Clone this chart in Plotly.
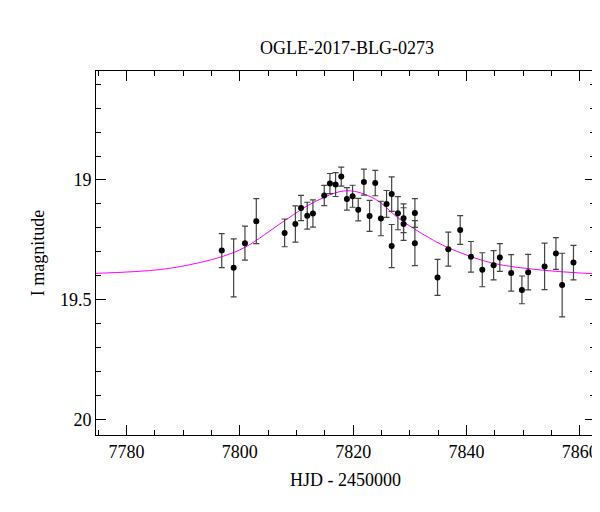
import plotly.graph_objects as go

# photometry (HJD - 2450000, I mag, error)
hjd = [7796.8, 7798.9, 7800.9, 7802.9, 7807.9, 7809.8, 7810.8, 7811.9, 7812.9,
       7814.9, 7815.9, 7816.9, 7817.9, 7818.9, 7819.9, 7820.9, 7821.9, 7822.9,
       7823.9, 7824.9, 7825.9, 7826.8, 7826.8, 7827.9, 7828.9, 7828.9, 7830.9,
       7830.9, 7834.9, 7836.8, 7838.9, 7840.8, 7842.8, 7844.8, 7845.9, 7847.9,
       7849.8, 7850.9, 7853.8, 7855.8, 7856.9, 7858.9]
mag = [19.295, 19.367, 19.264, 19.172, 19.221, 19.184, 19.117, 19.149, 19.140,
       19.065, 19.015, 19.019, 18.986, 19.079, 19.068, 19.124, 19.009, 19.150,
       19.013, 19.161, 19.100, 19.059, 19.276, 19.139, 19.160, 19.184, 19.138,
       19.264, 19.407, 19.289, 19.209, 19.321, 19.375, 19.356, 19.324, 19.388,
       19.459, 19.385, 19.361, 19.307, 19.439, 19.345]
err = [0.071, 0.121, 0.071, 0.094, 0.058, 0.076, 0.053, 0.056, 0.057,
       0.042, 0.042, 0.050, 0.040, 0.047, 0.046, 0.047, 0.054, 0.065,
       0.053, 0.072, 0.056, 0.072, 0.090, 0.069, 0.060, 0.068, 0.060,
       0.094, 0.075, 0.071, 0.060, 0.064, 0.071, 0.061, 0.058, 0.076,
       0.058, 0.074, 0.097, 0.066, 0.133, 0.072]

# model curve
model_t = [7774.6, 7786.0, 7792.7, 7797.1, 7801.0, 7807.9, 7813.3, 7818.9,
           7823.9, 7828.0, 7833.3, 7836.8, 7844.4, 7853.2, 7862.7]
model_m = [19.390, 19.374, 19.346, 19.318, 19.280, 19.170, 19.090, 19.045,
           19.080, 19.160, 19.240, 19.283, 19.346, 19.376, 19.392]

font = "Liberation Serif, DejaVu Serif, serif"

fig = go.Figure()
fig.add_trace(go.Scatter(x=model_t, y=model_m, mode="lines",
                         line=dict(color="#ff00ff", width=1, shape="spline"),
                         showlegend=False))
fig.add_trace(go.Scatter(x=hjd, y=mag, mode="markers",
                         marker=dict(color="black", size=6),
                         error_y=dict(type="data", array=err, color="#444",
                                      thickness=1.2, width=3),
                         showlegend=False))

axis_common = dict(showgrid=False, zeroline=False, showline=True, mirror="allticks",
                   linecolor="black", linewidth=1, ticks="inside", ticklen=10,
                   tickcolor="black", automargin=False,
                   tickfont=dict(size=18, color="black", family=font))
fig.update_xaxes(range=[7774.6, 7862.7], dtick=20, tick0=7780,
                 minor=dict(dtick=5, ticks="inside", ticklen=5, tickcolor="black"),
                 title=dict(text="HJD - 2450000", standoff=12,
                            font=dict(size=18, family=font, color="black")),
                 **axis_common)
fig.update_yaxes(range=[20.065, 18.545], tickvals=[19, 19.5, 20],
                 ticktext=["19", "19.5", "20"],
                 minor=dict(dtick=0.1, ticks="inside", ticklen=5, tickcolor="black"),
                 title=dict(text="I magnitude", standoff=10,
                            font=dict(size=18, family=font, color="black")),
                 **axis_common)
fig.update_layout(
    width=600, height=512,
    title=dict(text="OGLE-2017-BLG-0273", x=0.565, y=0.935, xanchor="center",
               font=dict(size=18, family=font, color="black")),
    plot_bgcolor="white", paper_bgcolor="white",
    margin=dict(l=88, r=13, t=63, b=85),
)

fig.write_html("out.html")
